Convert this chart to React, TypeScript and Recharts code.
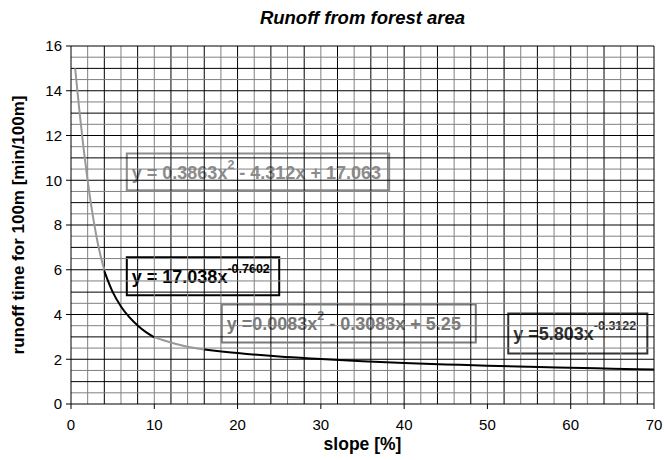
import {
  LineChart,
  Line,
  XAxis,
  YAxis,
  ReferenceLine,
  ReferenceArea,
} from "recharts";

const xTicks = [0, 10, 20, 30, 40, 50, 60, 70];
const yTicks = [0, 2, 4, 6, 8, 10, 12, 14, 16];

// curve pieces
const steepPart = [
  { x: 0.5, y: 15.0 },
  { x: 1, y: 13.14 },
  { x: 1.5, y: 11.46 },
  { x: 2, y: 9.98 },
  { x: 2.5, y: 8.7 },
  { x: 3, y: 7.6 },
  { x: 3.5, y: 6.7 },
  { x: 4, y: 6.0 },
];

const bendPart = [
  { x: 4, y: 5.94 },
  { x: 5, y: 5.01 },
  { x: 6, y: 4.36 },
  { x: 7, y: 3.88 },
  { x: 8, y: 3.51 },
  { x: 9, y: 3.21 },
  { x: 10, y: 2.98 },
];

const middlePart = [
  { x: 10, y: 2.98 },
  { x: 11, y: 2.86 },
  { x: 12, y: 2.75 },
  { x: 13, y: 2.65 },
  { x: 14, y: 2.56 },
  { x: 15, y: 2.49 },
  { x: 16, y: 2.44 },
];

const tailPart = [
  { x: 16, y: 2.44 },
  { x: 20, y: 2.28 },
  { x: 25, y: 2.12 },
  { x: 30, y: 2.01 },
  { x: 35, y: 1.91 },
  { x: 40, y: 1.83 },
  { x: 45, y: 1.77 },
  { x: 50, y: 1.71 },
  { x: 55, y: 1.66 },
  { x: 60, y: 1.62 },
  { x: 65, y: 1.58 },
  { x: 70, y: 1.54 },
];

const equations = [
  { main: "y = 0.3863x", sup: "2", rest: " - 4.312x + 17.063", x1: 6.7, x2: 38.2, y1: 9.55, y2: 11.2, color: "#8c8c8c" },
  { main: "y = 17.038x", sup: "-0.7602", rest: "", x1: 6.7, x2: 25.0, y1: 4.86, y2: 6.56, color: "#000000" },
  { main: "y =0.0083x", sup: "2", rest: " - 0.3083x + 5.25", x1: 18.1, x2: 48.6, y1: 2.75, y2: 4.45, color: "#7a7a7a" },
  { main: "y =5.803x", sup: "-0.3122", rest: "", x1: 52.5, x2: 69.2, y1: 2.26, y2: 4.05, color: "#333333" },
];

const vGrid: number[] = [];
for (let v = 2; v < 70; v += 2) vGrid.push(v);
const hGrid: number[] = [];
for (let v = 0.5; v < 16; v += 0.5) hGrid.push(v);

const font = "'Liberation Sans', Arial, sans-serif";

function EqText(props: any) {
  const { viewBox, eq } = props;
  if (!viewBox) return null;
  const { x, y, height } = viewBox;
  return (
    <text
      x={x + 5}
      y={y + height / 2 + 7}
      fill={eq.color}
      fontFamily={font}
      fontWeight="bold"
      fontSize={18}
    >
      <tspan>{eq.main}</tspan>
      <tspan fontSize={12.5} dy={-10}>
        {eq.sup}
      </tspan>
      {eq.rest && (
        <tspan fontSize={18} dy={10}>
          {eq.rest}
        </tspan>
      )}
    </text>
  );
}

export default function App() {
  return (
    <div style={{ position: "absolute", left: 0, top: 0, width: 664, height: 460, background: "#fff" }}>
      <div
        style={{
          position: "absolute",
          left: 71,
          width: 583,
          top: 8,
          lineHeight: "20px",
          textAlign: "center",
          fontFamily: font,
          fontWeight: "bold",
          fontStyle: "italic",
          fontSize: 18.5,
        }}
      >
        Runoff from forest area
      </div>
      <LineChart
        width={664}
        height={460}
        margin={{ top: 46, right: 10, bottom: 0, left: 31 }}
        style={{ fontFamily: font }}
      >
        {vGrid.map((v) => (
          <ReferenceLine
            key={"v" + v}
            x={v}
            stroke={v % 4 === 0 ? "#000" : "#808080"}
            strokeWidth={1}
          />
        ))}
        {hGrid.map((v) => (
          <ReferenceLine
            key={"h" + v}
            y={v}
            stroke={v % 1 === 0 ? "#000" : "#808080"}
            strokeWidth={1}
          />
        ))}
        <ReferenceLine y={16} stroke="#000" strokeWidth={1} />
        <ReferenceLine x={70} stroke="#000" strokeWidth={1} />
        <XAxis
          type="number"
          dataKey="x"
          domain={[0, 70]}
          ticks={xTicks}
          allowDataOverflow
          height={56}
          stroke="#000"
          tick={{ fill: "#000", fontSize: 15 }}
          tickSize={5}
          tickMargin={10}
          label={{
            value: "slope [%]",
            position: "insideBottom",
            offset: 10,
            style: { fontWeight: "bold", fontSize: 17.5, fill: "#000" },
          }}
        />
        <YAxis
          type="number"
          dataKey="y"
          domain={[0, 16]}
          ticks={yTicks}
          allowDataOverflow
          width={40}
          stroke="#000"
          tick={{ fill: "#000", fontSize: 15 }}
          tickSize={5}
          tickMargin={4}
          label={{
            value: "runoff time for 100m [min/100m]",
            angle: -90,
            position: "center",
            dx: -33,
            style: { fontWeight: "bold", fontSize: 17, fill: "#000" },
          }}
        />
        <Line data={steepPart} dataKey="y" type="monotone" stroke="#999" strokeWidth={2} dot={false} isAnimationActive={false} />
        <Line data={bendPart} dataKey="y" type="monotone" stroke="#000" strokeWidth={2} dot={false} isAnimationActive={false} />
        <Line data={middlePart} dataKey="y" type="monotone" stroke="#999" strokeWidth={2} dot={false} isAnimationActive={false} />
        <Line data={tailPart} dataKey="y" type="monotone" stroke="#000" strokeWidth={2} dot={false} isAnimationActive={false} />
        {equations.map((eq, i) => (
          <ReferenceArea
            key={"eq" + i}
            x1={eq.x1}
            x2={eq.x2}
            y1={eq.y1}
            y2={eq.y2}
            fill="none"
            fillOpacity={0}
            stroke={eq.color}
            strokeWidth={2}
            label={(p: any) => <EqText {...p} eq={eq} />}
          />
        ))}
      </LineChart>
    </div>
  );
}
